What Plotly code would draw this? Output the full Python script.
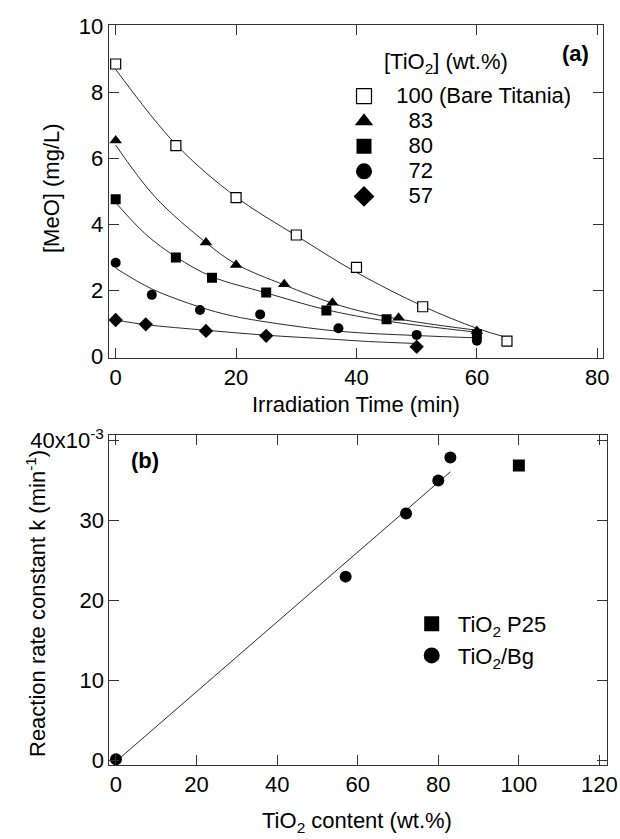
import plotly.graph_objects as go

FONT = "Liberation Sans, Arial, sans-serif"
W, H = 620, 839
FS = 22

# ---------------- Panel (a) data ----------------
t100 = [0, 10, 20, 30, 40, 51, 65]
c100 = [8.85, 6.38, 4.81, 3.68, 2.70, 1.51, 0.47]
t83 = [0, 15, 20, 28, 36, 47, 60]
c83 = [6.54, 3.45, 2.77, 2.19, 1.63, 1.18, 0.78]
t80 = [0, 10, 16, 25, 35, 45, 60]
c80 = [4.76, 3.00, 2.39, 1.94, 1.40, 1.13, 0.68]
t72 = [0, 6, 14, 24, 37, 50, 60]
c72 = [2.84, 1.87, 1.41, 1.28, 0.86, 0.66, 0.48]
t57 = [0, 5, 15, 25, 50]
c57 = [1.11, 0.98, 0.78, 0.63, 0.30]

# fitted curves
f100_t = [0, 10, 20, 30, 40, 51, 60, 65]
f100_c = [8.69, 6.42, 4.83, 3.66, 2.55, 1.53, 0.86, 0.58]
f83_t = [0, 6.5, 15, 20, 28, 36, 42, 50, 60]
f83_c = [6.40, 4.84, 3.45, 2.80, 2.17, 1.62, 1.32, 1.05, 0.80]
f80_t = [0, 5, 10, 16, 25, 35, 45, 60]
f80_c = [4.66, 3.70, 3.02, 2.42, 1.93, 1.42, 1.08, 0.74]
f72_t = [0, 6, 14, 19, 24, 37, 50, 60]
f72_c = [2.68, 2.05, 1.50, 1.25, 1.08, 0.77, 0.64, 0.57]
f57_t = [0, 5, 15, 25, 35, 42, 50]
f57_c = [1.11, 0.97, 0.80, 0.65, 0.54, 0.46, 0.40]

NB = "\u00a0"
legend_a_labels = [NB * 2 + "100 (Bare Titania)", NB * 4 + "83", NB * 4 + "80", NB * 4 + "72", NB * 4 + "57"]
legend_a_names = ['<span style="font-size:%dpx">%s</span>' % (FS, s) for s in legend_a_labels]

# ---------------- Panel (b) data ----------------
tio2_bg = [0, 57, 72, 80, 83]
k_bg = [0.00017, 0.0230, 0.0309, 0.0350, 0.0379]
tio2_p25 = [100]
k_p25 = [0.0369]
fit_b_x = [0, 83]
fit_b_y = [-0.0001, 0.0361]
k_ticks = [0, 0.01, 0.02, 0.03, 0.04]
k_ticktext = ["0", "10", "20", "30", "40x10<sup>-3</sup>"]

fig = go.Figure()

LINE = dict(color="#2a2a2a", width=1)
series = [
    (t100, c100, f100_t, f100_c, dict(symbol="square", size=10, color="white", line=dict(color="black", width=1.2)),
     dict(symbol="square", size=15, color="white", line=dict(color="black", width=1.2))),
    (t83, c83, f83_t, f83_c, dict(symbol="triangle-up", size=11, color="black"),
     dict(symbol="triangle-up", size=16, color="black")),
    (t80, c80, f80_t, f80_c, dict(symbol="square", size=10, color="black"),
     dict(symbol="square", size=15, color="black")),
    (t72, c72, f72_t, f72_c, dict(symbol="circle", size=10, color="black"),
     dict(symbol="circle", size=16, color="black")),
    (t57, c57, f57_t, f57_c, dict(symbol="diamond", size=11, color="black"),
     dict(symbol="diamond", size=16, color="black")),
]
for (tx, cy, ft, fc, mk, lmk), nm in zip(series, legend_a_names):
    fig.add_trace(go.Scatter(x=ft, y=fc, mode="lines", line=dict(shape="spline", smoothing=1, **LINE),
                             showlegend=False, xaxis="x", yaxis="y", hoverinfo="skip"))
for (tx, cy, ft, fc, mk, lmk), nm in zip(series, legend_a_names):
    fig.add_trace(go.Scatter(x=tx, y=cy, mode="markers", marker=mk, showlegend=False,
                             xaxis="x", yaxis="y"))
    fig.add_trace(go.Scatter(x=[None], y=[None], mode="markers", marker=lmk, name=nm,
                             legend="legend", xaxis="x", yaxis="y"))

# panel b
fig.add_trace(go.Scatter(x=fit_b_x, y=fit_b_y, mode="lines", line=LINE, showlegend=False,
                         xaxis="x2", yaxis="y2", hoverinfo="skip"))
fig.add_trace(go.Scatter(x=tio2_p25, y=k_p25, mode="markers", marker=dict(symbol="square", size=12, color="black"),
                         showlegend=False, xaxis="x2", yaxis="y2"))
fig.add_trace(go.Scatter(x=tio2_bg, y=k_bg, mode="markers", marker=dict(symbol="circle", size=12, color="black"),
                         showlegend=False, xaxis="x2", yaxis="y2"))
fig.add_trace(go.Scatter(x=[None], y=[None], mode="markers", marker=dict(symbol="square", size=15, color="black"),
                         name=NB + "TiO<sub>2</sub> P25", legend="legend2", xaxis="x2", yaxis="y2"))
fig.add_trace(go.Scatter(x=[None], y=[None], mode="markers", marker=dict(symbol="circle", size=16, color="black"),
                         name=NB + "TiO<sub>2</sub>/Bg", legend="legend2", xaxis="x2", yaxis="y2"))

ax_common = dict(showline=True, linecolor="#333", linewidth=1, mirror="ticks", ticks="inside",
                 ticklen=10, tickcolor="#333", tickwidth=1, showgrid=False, zeroline=False,
                 tickfont=dict(family=FONT, size=FS, color="black"), automargin=False)

fig.update_layout(
    width=W, height=H, margin=dict(l=0, r=0, t=0, b=0),
    paper_bgcolor="white", plot_bgcolor="white",
    font=dict(family=FONT, size=FS, color="black"),
    xaxis=dict(domain=[108.7 / W, 602.7 / W], range=[-1.16, 80.9], tickvals=[0, 20, 40, 60, 80],
               anchor="y", **ax_common),
    yaxis=dict(domain=[1 - 357.7 / H, 1 - 25 / H], range=[-0.03, 10.03], tickvals=[0, 2, 4, 6, 8, 10],
               anchor="x", **ax_common),
    xaxis2=dict(domain=[109.3 / W, 606.7 / W], range=[-1.66, 121.8], tickvals=[0, 20, 40, 60, 80, 100, 120],
                anchor="y2", **ax_common),
    yaxis2=dict(domain=[1 - 765 / H, 1 - 435 / H], range=[-0.00054, 0.0407], tickvals=k_ticks,
                ticktext=k_ticktext, anchor="x2", **ax_common),
    legend=dict(x=344 / W, y=1 - 78.5 / H, xanchor="left", yanchor="top", xref="paper", yref="paper",
                bgcolor="rgba(0,0,0,0)", font=dict(family=FONT, size=17, color="black"),
                itemsizing="trace", tracegroupgap=0),
    legend2=dict(x=411.7 / W, y=1 - 603 / H, xanchor="left", yanchor="top", xref="paper", yref="paper",
                 bgcolor="rgba(0,0,0,0)", font=dict(family=FONT, size=FS, color="black"),
                 itemsizing="trace", tracegroupgap=0),
)

ann = [
    dict(text="[MeO] (mg/L)", x=51 / W, y=1 - 188 / H, textangle=-90),
    dict(text="Irradiation Time (min)", x=356 / W, y=1 - 405 / H),
    dict(text="<b>(a)</b>", x=575 / W, y=1 - 53 / H),
    dict(text="[TiO<sub>2</sub>] (wt.%)", x=381.7 / W, y=1 - 63 / H, xanchor="left"),
    dict(text="Reaction rate constant k (min<sup>-1</sup>)", x=36 / W, y=1 - 604 / H, textangle=-90),
    dict(text="TiO<sub>2</sub> content (wt.%)", x=357 / W, y=1 - 822 / H),
    dict(text="<b>(b)</b>", x=145 / W, y=1 - 460 / H),
]
for a in ann:
    a.setdefault("xanchor", "center")
    fig.add_annotation(xref="paper", yref="paper", yanchor="middle", showarrow=False,
                       font=dict(family=FONT, size=FS, color="black"), **a)

fig.write_html("out.html")
